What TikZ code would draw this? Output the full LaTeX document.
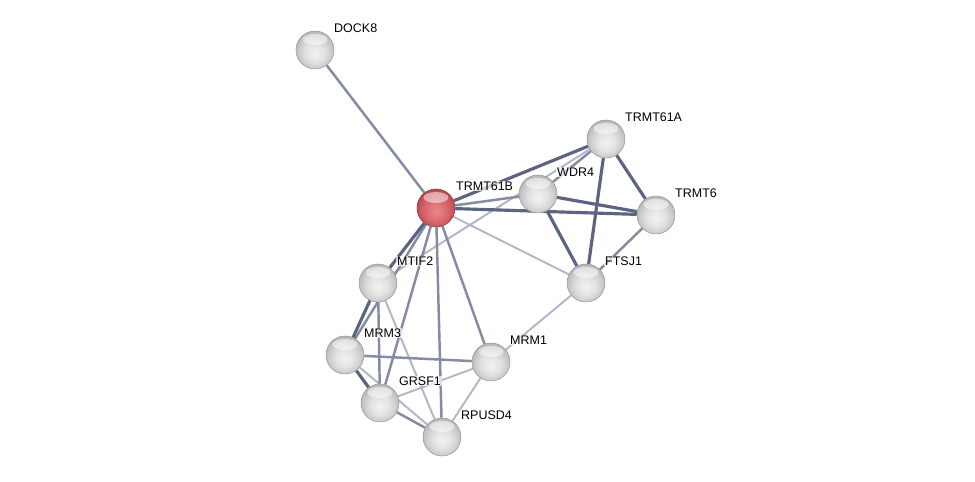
\documentclass[tikz,border=0pt]{standalone}
\usepackage{fontspec}
\setmainfont{Liberation Sans}
\usepackage{xcolor}
\usepackage{tikz}
\usetikzlibrary{backgrounds}

\definecolor{edgedark}{RGB}{92,100,130}
\definecolor{edgemid}{RGB}{132,139,164}
\definecolor{edgelight}{RGB}{178,182,200}
\definecolor{redA}{RGB}{236,136,140}
\definecolor{redB}{RGB}{222,110,115}
\definecolor{redC}{RGB}{205,90,97}
\definecolor{redD}{RGB}{182,72,80}
\definecolor{redE}{RGB}{140,55,60}
\pgfdeclareradialshading{protglass}{\pgfpoint{0bp}{-5bp}}{%
    color(0bp)=(white!95!black); color(12bp)=(white!89!black); color(20bp)=(white!81!black);
    color(27bp)=(white!72!black); color(30bp)=(white!58!black); color(50bp)=(white!58!black)}
\pgfdeclareradialshading{protred}{\pgfpoint{0bp}{-5bp}}{%
    color(0bp)=(redA); color(12bp)=(redB); color(20bp)=(redC);
    color(27bp)=(redD); color(30bp)=(redE); color(50bp)=(redE)}

\begin{document}
\begin{tikzpicture}[x=0.02cm, y=-0.02cm,
    prot/.style={circle, minimum size=0.76cm, inner sep=0pt, shade, shading=protglass, draw=gray!80, line width=0.3pt,
        path picture={\fill[white, opacity=0.5] (path picture bounding box.center) ++(0cm,0.21cm)
            ellipse [x radius=0.25cm, y radius=0.11cm];}},
    lbl/.style={anchor=west, inner sep=0.5pt, fill=white, fill opacity=0.7, text opacity=1, font=\fontsize{7.1}{8}\selectfont},
    weakedge/.style={edgelight, line width=1.1pt},
    midedge/.style={edgemid, line width=1.4pt},
    strongedge/.style={edgedark, line width=1.8pt}]
    % 1. Khung
    \useasboundingbox (0,0) rectangle (975,482);

    % 2. Cac protein
    \node[prot, shading=protred, draw=redE] (TRMT61B) at (436,208) {};
    \node[lbl] (TRMT61B-l) at (455,186) {TRMT61B};
    \foreach \n/\x/\y in {DOCK8/315/50, TRMT61A/606/139, WDR4/538/194, TRMT6/656/215,
        FTSJ1/586/283, MTIF2/378/283, MRM3/345/355, MRM1/491/362,
        GRSF1/380/403, RPUSD4/442/437} {
        \node[prot] (\n) at (\x,\y) {};
        \node[lbl] (\n-l) at (\x+18,\y-22) {\n};
    }

    % 3. Cac lien ket
    \begin{pgfonlayer}{background}
    \fill[white] (0,0) rectangle (975,482);
    \foreach \a/\b in {TRMT61B/FTSJ1, MTIF2/TRMT61A, FTSJ1/MRM1, MTIF2/RPUSD4,
        MRM3/RPUSD4, GRSF1/MRM1, MRM1/RPUSD4}
        \draw[weakedge] (\a) -- (\b);
    \foreach \a/\b in {DOCK8/TRMT61B, TRMT61B/WDR4, TRMT61B/MRM3, TRMT61B/GRSF1,
        TRMT61B/RPUSD4, TRMT61B/MRM1, WDR4/TRMT61A, TRMT6/FTSJ1,
        MTIF2/GRSF1, MRM3/MRM1, GRSF1/RPUSD4}
        \draw[midedge] (\a) -- (\b);
    \foreach \a/\b in {TRMT61B/TRMT61A, TRMT61B/TRMT6, TRMT61B/MTIF2, WDR4/TRMT6,
        WDR4/FTSJ1, TRMT61A/TRMT6, TRMT61A/FTSJ1, MTIF2/MRM3, MRM3/GRSF1}
        \draw[strongedge] (\a) -- (\b);
    \end{pgfonlayer}
\end{tikzpicture}
\end{document}
